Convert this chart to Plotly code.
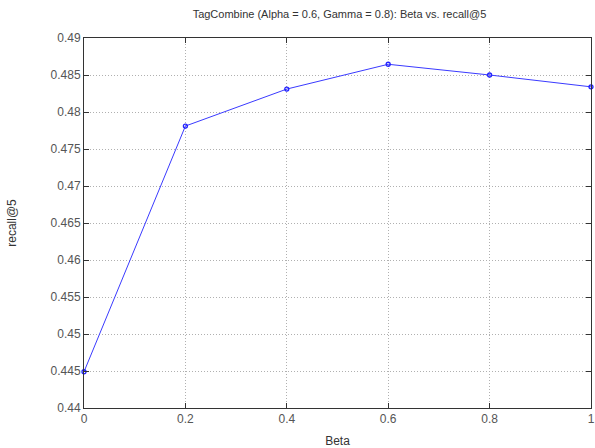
import plotly.graph_objects as go

beta = [0, 0.2, 0.4, 0.6, 0.8, 1.0]
recall5 = [0.4449, 0.4781, 0.4831, 0.48645, 0.4850, 0.4834]
x_ticks = [0, 0.2, 0.4, 0.6, 0.8, 1]
x_tick_labels = ["0", "0.2", "0.4", "0.6", "0.8", "1"]
y_ticks = [0.44, 0.445, 0.45, 0.455, 0.46, 0.465, 0.47, 0.475, 0.48, 0.485, 0.49]
y_tick_labels = ["0.44", "0.445", "0.45", "0.455", "0.46", "0.465", "0.47", "0.475", "0.48", "0.485", "0.49"]

FONT = "Liberation Sans, Arial, sans-serif"

fig = go.Figure()
fig.add_trace(go.Scatter(
    x=beta, y=recall5, mode="lines+markers",
    line=dict(color="#3a3aff", width=1),
    marker=dict(symbol="circle-open", size=4, color="#2222ff", line=dict(width=1.3)),
    showlegend=False, cliponaxis=False,
))

axis_common = dict(
    showline=True, linecolor="#333333", linewidth=1,
    mirror="ticks", ticks="inside", ticklen=5, tickcolor="#333333",
    showgrid=True, gridcolor="#b0b0b0", griddash="1px,2px", gridwidth=1,
    zeroline=False, ticklabeloverflow="allow",
    tickfont=dict(family=FONT, size=12, color="#555555"),
)

fig.update_layout(
    width=595, height=448,
    margin=dict(l=84, r=0, t=38, b=40),
    paper_bgcolor="white", plot_bgcolor="white",
    title=dict(text="TagCombine (Alpha = 0.6, Gamma = 0.8): Beta vs. recall@5",
               x=0.5705, xanchor="center", y=1 - 14 / 448, yanchor="middle",
               font=dict(family=FONT, size=11, color="#333333")),
    xaxis=dict(range=[0, 1], tickvals=x_ticks, ticktext=x_tick_labels,
               title=dict(text="Beta", standoff=13,
                          font=dict(family=FONT, size=12, color="#333333")),
               **axis_common),
    yaxis=dict(range=[0.44, 0.49], tickvals=y_ticks, ticktext=y_tick_labels,
               title=dict(text="recall@5", standoff=31,
                          font=dict(family=FONT, size=12, color="#333333")),
               **axis_common),
)

fig.write_html("out.html")
